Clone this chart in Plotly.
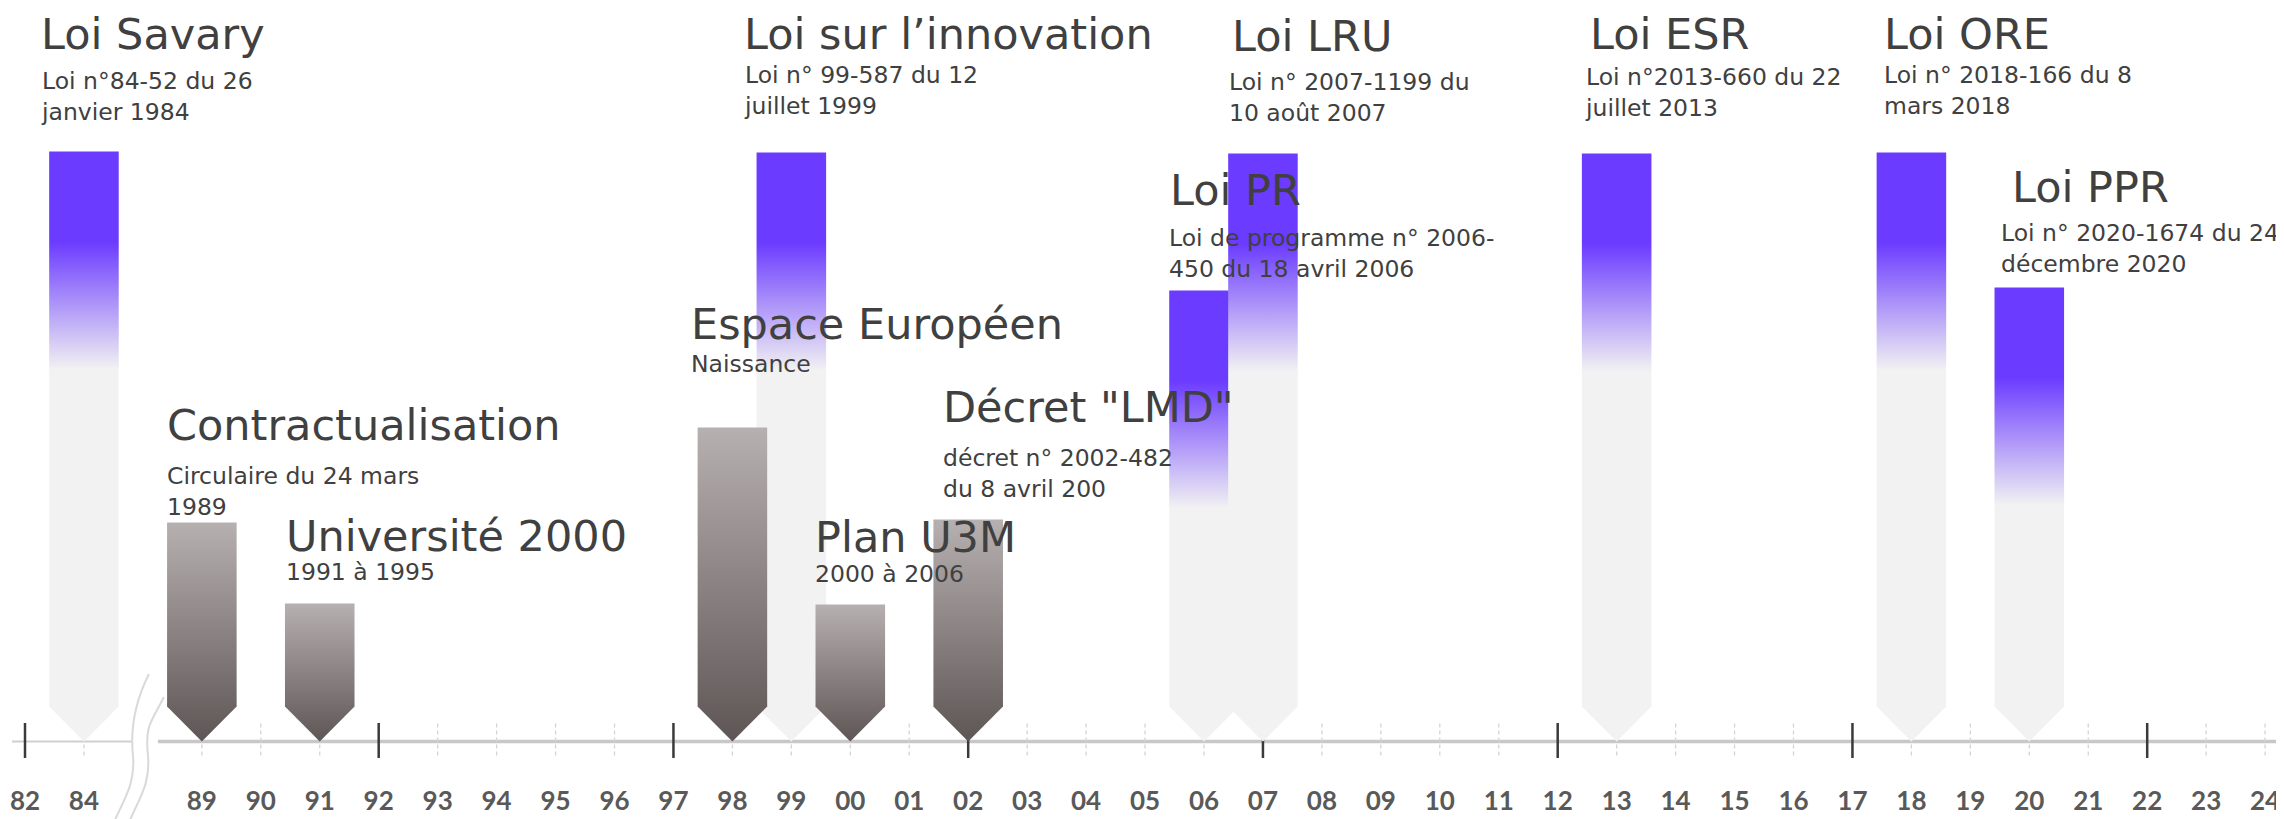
import plotly.graph_objects as go

PAGE_W, PAGE_H = 2284, 819
BODY_MARGIN = 8            # default page margin around the plot div
W, H = PAGE_W - BODY_MARGIN, PAGE_H - BODY_MARGIN

# ---------------- data ----------------
year_labels = ["82", "84", "89", "90", "91", "92", "93", "94", "95", "96", "97", "98",
               "99", "00", "01", "02", "03", "04", "05", "06", "07", "08", "09", "10",
               "11", "12", "13", "14", "15", "16", "17", "18", "19", "20", "21", "22",
               "23", "24"]
major_years = ["82", "92", "97", "02", "07", "12", "17", "22"]
break_after = "84"

event_titles = ["Loi Savary", "Contractualisation", "Université 2000", "Espace Européen",
                "Loi sur l’innovation", "Plan U3M", "Décret \"LMD\"", "Loi PR", "Loi LRU",
                "Loi ESR", "Loi ORE", "Loi PPR"]
event_details = ["Loi n°84-52 du 26<br>janvier 1984",
                 "Circulaire du 24 mars<br>1989",
                 "1991 à 1995",
                 "Naissance",
                 "Loi n° 99-587 du 12<br>juillet 1999",
                 "2000 à 2006",
                 "décret n° 2002-482<br>du 8 avril 200",
                 "Loi de programme n° 2006-<br>450 du 18 avril 2006",
                 "Loi n° 2007-1199 du<br>10 août 2007",
                 "Loi n°2013-660 du 22<br>juillet 2013",
                 "Loi n° 2018-166 du 8<br>mars 2018",
                 "Loi n° 2020-1674 du 24<br>décembre 2020"]
event_years = ["84", "89", "91", "98", "99", "00", "02", "06", "07", "13", "18", "20"]
event_heights = [590, 219, 138, 314, 589, 137, 222, 451, 588, 588, 589, 454]
event_kinds = ["loi", "plan", "plan", "plan", "loi", "plan", "plan", "loi", "loi", "loi", "loi", "loi"]

# ---------------- layout / style constants (page pixels) ----------------
AXIS_PX = 741.5          # pixel row of the timeline axis
SLOT_PX = 58.95          # pixel width of one year slot
ORIGIN_PX = 25           # pixel column of the first slot
ARROW_HALF_W = 0.59      # half arrow width, in slots
ARROW_TIP = 35           # height of arrow point
FADE_TOP, FADE_BOTTOM = 90, 218   # purple fade band, measured down from an arrow's top
PURPLE, PALE = "#6B3BFF", "#F2F2F2"
BROWN_TOP, BROWN_BOT = "#B7B0B0", "#5E5655"
TEXT = "#404040"
FONT = "DejaVu Sans"
FS_T, FS_D = 43, 23.5
ASC, DESC = 0.928, 0.236   # font line metrics (em)

# text placement (pixels): title left, title baseline, detail left, detail first baseline
text_layout = [
    (40, 49, 40, 89.3),
    (165.8, 440, 165.8, 484),
    (284.8, 550.7, 284.8, 580),
    (690.2, 339.3, 690.2, 371.7),
    (743.4, 49, 743.4, 83),
    (814.3, 551.7, 814.3, 581.7),
    (942.4, 421.7, 942.4, 466.7),
    (1169.4, 205, 1167.9, 246),
    (1230.6, 50.7, 1228, 90),
    (1589, 49, 1584, 85),
    (1882.5, 49, 1882.5, 83),
    (2011, 202.3, 2000, 241.7),
]


def slot(label):
    i = year_labels.index(label)
    return i + (1 if i > year_labels.index(break_after) else 0)


def ux(px):
    return (px - ORIGIN_PX) / SLOT_PX


def uy(py):
    return AXIS_PX - py


fig = go.Figure()

# axis line (pre-break thin, post-break thicker)
brk = slot(break_after) + 1
bx = ORIGIN_PX + brk * SLOT_PX - 4
fig.add_trace(go.Scatter(x=[ux(12), ux(bx - 7)], y=[0, 0], mode="lines",
                         line=dict(color="#D0D0D0", width=2), hoverinfo="skip", showlegend=False))
fig.add_trace(go.Scatter(x=[ux(bx + 19), ux(PAGE_W) + 1], y=[0, 0], mode="lines",
                         line=dict(color="#C8C8C8", width=3.5), hoverinfo="skip", showlegend=False))

# minor dashed ticks
mx, my = [], []
for lab in year_labels:
    if lab in major_years:
        continue
    s = slot(lab)
    mx += [s, s, None]
    my += [18, -17, None]
fig.add_trace(go.Scatter(x=mx, y=my, mode="lines",
                         line=dict(color="#D4D4D4", width=1.3, dash="4px,3px"),
                         hoverinfo="skip", showlegend=False))
# major ticks
Mx, My = [], []
for lab in major_years:
    s = slot(lab)
    Mx += [s, s, None]
    My += [18.5, -16.5, None]
fig.add_trace(go.Scatter(x=Mx, y=My, mode="lines", line=dict(color="#3A3A3A", width=2.5),
                         hoverinfo="skip", showlegend=False))

# break squiggle: two S-curves (pixel offsets around the break slot)
for dx, top in ((0, 674), (15, 697)):
    p0 = (bx + 10 + dx, top)
    c1 = (bx - 3 + dx, top + 26)
    c2 = (bx - 9 + dx, 725)
    p1 = (bx - 6 + dx, 755)
    c3 = (bx - 16 + dx, 800)
    p2 = (bx - 26 + dx, 825)
    path = "M {} {} C {} {}, {} {}, {} {} S {} {}, {} {}".format(
        ux(p0[0]), uy(p0[1]), ux(c1[0]), uy(c1[1]), ux(c2[0]), uy(c2[1]),
        ux(p1[0]), uy(p1[1]), ux(c3[0]), uy(c3[1]), ux(p2[0]), uy(p2[1]))
    fig.add_shape(type="path", path=path, xref="x", yref="y",
                  line=dict(color="#D9D9D9", width=2), layer="above")

brown_scale = [[0, BROWN_BOT], [1, BROWN_TOP]]


def arrow(year, height, kind):
    c = slot(year)
    x = [c - ARROW_HALF_W, c + ARROW_HALF_W, c + ARROW_HALF_W, c, c - ARROW_HALF_W, c - ARROW_HALF_W]
    y = [height, height, ARROW_TIP, 0, ARROW_TIP, height]
    if kind == "loi":
        grad = dict(type="vertical", colorscale=[[0, PALE], [1, PURPLE]],
                    start=height - FADE_BOTTOM, stop=height - FADE_TOP)
    else:
        grad = dict(type="vertical", colorscale=brown_scale)
    return go.Scatter(x=x, y=y, mode="lines", fill="toself", line=dict(width=0),
                      fillgradient=grad, hoverinfo="skip", showlegend=False)


for kind in ("loi", "plan"):
    for yr, h, k in zip(event_years, event_heights, event_kinds):
        if k == kind:
            fig.add_trace(arrow(yr, h, k))

# year labels
fig.add_trace(go.Scatter(x=[slot(l) for l in year_labels], y=[uy(803)] * len(year_labels),
                         mode="text", text=year_labels,
                         textfont=dict(family="Lato", size=26, color="#595959", weight="bold"),
                         hoverinfo="skip", showlegend=False))

# titles and details
for title, detail, (tx, tb, dx, db) in zip(event_titles, event_details, text_layout):
    fig.add_annotation(x=ux(tx), y=uy(tb - (ASC - DESC) / 2 * FS_T), xref="x", yref="y",
                       text=title, showarrow=False, xanchor="left", yanchor="middle",
                       align="left", font=dict(family=FONT, size=FS_T, color=TEXT), borderpad=0)
    nlines = detail.count("<br>") + 1
    cy = db + (-ASC + (nlines - 1) * 1.3 + DESC) / 2 * FS_D
    fig.add_annotation(x=ux(dx), y=uy(cy), xref="x", yref="y",
                       text=detail, showarrow=False, xanchor="left", yanchor="middle",
                       align="left", font=dict(family=FONT, size=FS_D, color=TEXT), borderpad=0)

fig.update_layout(
    width=W, height=H,
    margin=dict(l=0, r=0, t=0, b=0),
    paper_bgcolor="white", plot_bgcolor="white",
    xaxis=dict(range=[ux(BODY_MARGIN), ux(PAGE_W)], visible=False, fixedrange=True),
    yaxis=dict(range=[uy(PAGE_H), uy(BODY_MARGIN)], visible=False, fixedrange=True),
)

fig.write_html("out.html")
